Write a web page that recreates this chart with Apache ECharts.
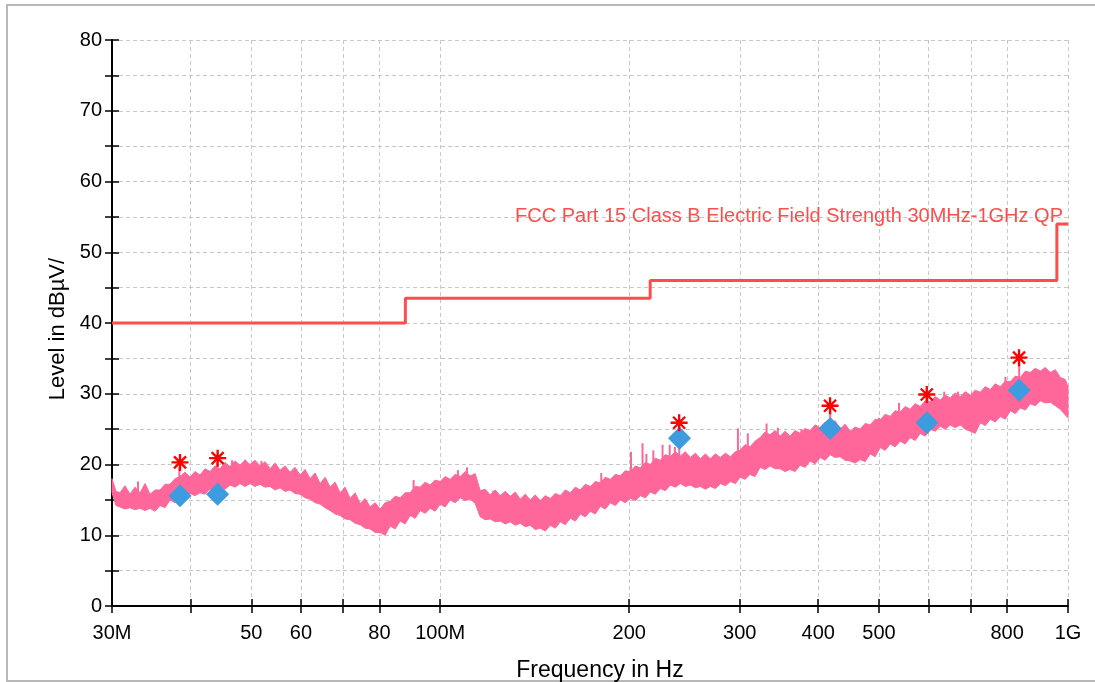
<!DOCTYPE html>
<html><head><meta charset="utf-8">
<script src="https://cdn.jsdelivr.net/npm/echarts@6/dist/echarts.min.js"></script>
<style>html,body{margin:0;padding:0;background:#fff}#c{width:1095px;height:682px}</style>
</head><body><div id="c"></div>
<script>
// ---- data (frequency in MHz, level in dBµV/m) ----
const traceFreq = [
  30.00,30.44,30.89,31.46,32.05,32.64,33.25,33.87,34.49,35.13,
  35.78,36.44,37.12,37.81,38.50,39.21,39.94,40.68,41.43,42.20,
  42.98,43.78,44.58,45.40,46.25,47.11,47.98,48.87,49.77,50.69,
  51.63,52.59,53.57,54.56,55.57,56.60,57.64,58.71,59.80,60.91,
  62.04,63.19,64.36,65.55,66.76,68.00,69.26,70.54,71.85,73.18,
  74.54,75.92,77.32,78.75,80.22,81.70,83.21,84.75,86.33,87.93,
  89.55,91.21,92.90,94.62,96.38,98.16,99.98,101.83,103.72,105.64,
  107.60,109.59,111.62,113.69,115.79,117.93,120.12,122.34,124.61,126.92,
  129.28,131.67,134.11,136.59,139.12,141.69,144.32,146.99,149.72,152.49,
  155.32,158.19,161.13,164.11,167.15,170.24,173.40,176.61,179.88,183.21,
  186.61,190.06,193.59,197.17,200.83,204.55,208.34,212.20,216.12,220.12,
  224.20,228.35,232.59,236.89,241.28,245.74,250.31,254.94,259.66,264.46,
  269.37,274.35,279.45,284.62,289.90,295.26,300.33,305.89,311.56,317.32,
  323.20,329.18,335.28,341.48,347.82,354.26,360.82,367.50,374.31,381.24,
  388.31,395.49,402.83,410.28,417.89,425.62,433.52,441.54,449.73,458.05,
  466.55,475.18,483.99,492.94,502.10,511.39,520.88,530.52,540.35,550.35,
  560.55,570.92,581.52,592.28,603.27,614.43,625.83,637.41,649.23,661.24,
  673.51,685.97,698.70,711.63,724.83,738.24,751.93,765.84,780.04,794.47,
  809.21,824.18,839.47,855.00,870.86,886.97,903.43,920.14,937.21,954.55,
  972.26,990.25,1000];
const traceTop = [
  18.0,16.2,16.0,17.0,15.8,16.8,16.0,17.3,15.8,16.4,
  16.4,17.2,17.2,18.0,18.3,18.9,18.2,19.0,18.5,19.4,
  19.0,19.8,19.4,20.3,19.7,20.5,19.9,20.6,20.0,20.6,
  19.8,20.4,19.4,20.2,19.2,19.8,18.9,19.6,18.5,19.3,
  18.0,18.8,17.3,18.2,16.8,17.5,16.0,16.8,15.2,16.0,
  14.5,15.2,14.0,14.6,13.7,14.6,14.8,15.5,15.3,16.0,
  16.0,16.9,16.8,17.5,17.1,17.8,17.6,18.3,17.9,18.6,
  18.3,19.0,18.4,18.7,16.3,16.5,15.7,16.4,15.6,16.2,
  15.5,16.1,15.1,15.8,15.0,15.7,14.9,15.6,15.2,15.9,
  15.6,16.4,16.0,16.8,16.4,17.2,16.9,17.6,17.4,18.2,
  17.9,18.6,18.4,19.1,19.0,19.8,19.5,20.3,20.0,20.9,
  20.6,21.4,21.1,21.8,21.2,21.8,21.0,21.6,20.8,21.5,
  20.8,21.5,21.0,21.6,21.1,21.8,22.0,22.8,22.5,23.3,
  23.8,24.6,24.2,24.8,24.0,24.7,24.0,24.8,24.4,25.1,
  24.8,25.6,25.2,26.0,25.6,26.2,25.0,25.7,24.7,25.3,
  25.0,25.8,25.6,26.4,26.3,27.1,26.8,27.6,27.4,28.2,
  27.8,28.6,28.2,29.0,28.9,29.6,29.1,29.8,29.4,30.1,
  29.6,30.3,29.8,30.5,30.2,31.0,30.6,31.4,31.0,31.8,
  31.7,32.5,32.3,33.2,33.0,33.6,33.2,33.7,33.0,33.4,
  32.3,32.0,31.0];
const traceBottom = [
  16.0,14.2,14.0,13.7,13.9,13.6,13.8,13.5,13.8,13.4,
  14.2,13.9,15.0,14.6,15.8,15.4,15.9,15.6,16.0,15.8,
  16.5,16.1,16.8,16.5,17.1,16.8,17.3,16.9,17.3,16.9,
  17.2,16.8,16.9,16.4,16.7,16.2,16.4,15.9,15.8,15.3,
  15.1,14.6,14.4,13.9,13.5,13.0,12.8,12.3,12.2,11.7,
  11.5,11.0,10.9,10.4,10.4,10.0,11.3,10.9,12.0,11.6,
  12.8,12.4,13.5,13.1,13.8,13.4,14.4,14.0,15.0,14.6,
  15.3,14.9,15.1,14.5,12.6,12.2,12.3,11.9,12.0,11.6,
  11.9,11.4,11.7,11.2,11.4,10.8,11.0,10.6,11.4,11.0,
  11.9,11.5,12.4,12.0,13.0,12.6,13.4,13.0,14.1,13.7,
  14.6,14.2,15.0,14.6,15.2,14.9,15.6,15.3,16.1,15.8,
  16.6,16.3,17.1,16.8,17.3,16.9,17.1,16.7,16.9,16.5,
  16.9,16.6,17.3,17.0,17.6,17.3,18.2,17.9,18.6,18.3,
  19.6,19.3,19.8,19.4,19.4,19.0,19.3,19.0,19.9,19.6,
  20.5,20.1,21.0,20.6,21.4,21.0,21.1,20.6,20.5,20.2,
  20.7,20.4,21.5,21.1,22.4,22.0,22.9,22.5,23.3,22.9,
  23.8,23.4,24.4,24.0,25.0,24.7,25.4,25.0,25.6,25.2,
  25.6,25.0,24.7,24.4,25.9,25.5,26.4,26.0,26.8,26.4,
  27.6,27.2,28.0,27.7,28.6,28.3,29.0,28.7,28.8,28.3,
  27.8,27.0,26.6];

const spikeFreq = [33.0,38.4,44.1,46.6,48.9,51.9,90.7,106.7,110.3,121.5,180.5,201.3,210.0,213.0,218.5,226.0,232.0,236.5,240.3,298.0,309.0,331.0,345.0,376.0,418.0,500.0,538.0,596.0,635.0,668.0,795.0,836.0];
const spikeBase = [16.0,17.5,18.5,19.0,19.5,19.2,15.5,17.8,17.8,15.0,16.8,18.5,19.0,19.2,19.5,20.0,20.5,20.8,20.8,20.5,21.5,23.0,23.5,23.5,25.0,25.5,26.5,28.0,28.5,29.0,30.0,31.0];
const spikePeak = [17.6,19.6,20.3,20.6,20.7,20.5,17.8,19.2,19.6,16.3,18.8,21.8,23.0,21.5,22.0,22.8,22.8,22.5,25.3,25.1,24.4,25.8,25.2,25.0,27.6,26.6,28.7,29.4,30.3,30.3,32.4,34.4];

const peakFreq = [38.5,44.2,240.2,417.8,595.7,835.6];
const peakLevel = [20.3,20.9,25.9,28.3,29.9,35.1];
const qpFreq = [38.5,44.2,240.5,418.0,596.0,836.0];
const qpLevel = [15.6,15.8,23.7,25.1,25.9,30.5];

const limitFreq = [30,88,88,216,216,960,960,1000];
const limitLevel = [40,40,43.5,43.5,46,46,54,54];
const limitName = 'FCC Part 15 Class B Electric Field Strength 30MHz-1GHz QP';

const xTickFreq = [30,40,50,60,70,80,100,200,300,400,500,600,700,800,1000];
const xLabelFreq = [30,50,60,80,100,200,300,400,500,800,1000];
const xLabelText = ['30M','50','60','80','100M','200','300','400','500','800','1G'];
const yMin = 0, yMax = 80, yStep = 5;
const xName = 'Frequency in Hz';
const yName = 'Level in dBµV/';

// ---- chart ----
const lg = Math.log10;
const FONT = "'Liberation Sans', Arial, sans-serif";
const PINK = '#ff6699';
const asterisk = 'path://M-1.1,-8L1.1,-8L1.1,8L-1.1,8Z M-8,-1.1L8,-1.1L8,1.1L-8,1.1Z M4.88,-6.43L6.43,-4.88L-4.88,6.43L-6.43,4.88Z M-6.43,-4.88L-4.88,-6.43L6.43,4.88L4.88,6.43Z';

function xLabelFormatter(v) {
  let best = 0, bd = Infinity;
  xLabelFreq.forEach((f, i) => { const d = Math.abs(lg(f) - v); if (d < bd) { bd = d; best = i; } });
  return xLabelText[best];
}

const gridLine = { show: true, lineStyle: { color: '#c8c8c8', type: [4, 3], width: 1 } };

const chart = echarts.init(document.getElementById('c'), null, { renderer: 'canvas' });
chart.setOption({
  animation: false,
  backgroundColor: '#fff',
  textStyle: { fontFamily: FONT },
  graphic: [{ type: 'rect', shape: { x: 7, y: 5, width: 1200, height: 676 }, style: { fill: null, stroke: '#b8b8b8', lineWidth: 2 }, z: -10 }],
  grid: { left: 112, right: 27, top: 40, bottom: 76, containLabel: false, outerBoundsMode: 'none' },
  xAxis: [
    {
      type: 'value', min: lg(30), max: 3, position: 'bottom',
      axisLine: { show: true, onZero: false, lineStyle: { color: '#000', width: 2 } },
      axisTick: { show: true, customValues: xTickFreq.map(lg), length: 7, lineStyle: { color: '#000', width: 1.5 } },
      axisLabel: { show: true, customValues: xLabelFreq.map(lg), formatter: xLabelFormatter, fontSize: 20, color: '#000', margin: 17, fontFamily: FONT },
      splitLine: gridLine,
      name: xName, nameLocation: 'middle', nameGap: 53,
      nameTextStyle: { fontSize: 23, color: '#000', fontFamily: FONT, padding: [0, 0, 0, 20] }
    },
    {
      type: 'value', min: lg(30), max: 3, position: 'bottom',
      axisLine: { show: false },
      axisTick: { show: true, inside: true, customValues: xTickFreq.map(lg), length: 7, lineStyle: { color: '#000', width: 1.5 } },
      axisLabel: { show: false }, splitLine: { show: false }
    }
  ],
  yAxis: [
    {
      type: 'value', min: yMin, max: yMax, interval: yStep, position: 'left',
      axisLine: { show: true, onZero: false, lineStyle: { color: '#000', width: 2 } },
      axisTick: { show: true, length: 7, lineStyle: { color: '#000', width: 1.5 } },
      axisLabel: { formatter: v => (v % 10 === 0 ? String(v) : ''), fontSize: 20, color: '#000', margin: 10, fontFamily: FONT },
      splitLine: gridLine,
      name: yName, nameLocation: 'middle', nameGap: 36,
      nameTextStyle: { fontSize: 22, color: '#000', fontFamily: FONT, padding: [0, 12, 0, 0] }
    },
    {
      type: 'value', min: yMin, max: yMax, interval: yStep, position: 'left', offset: 0,
      axisLine: { show: false },
      axisTick: { show: true, inside: true, length: 7, lineStyle: { color: '#000', width: 1.5 } },
      axisLabel: { show: false }, splitLine: { show: false }
    }
  ],
  series: [
    {
      name: 'trace', type: 'custom', xAxisIndex: 0, yAxisIndex: 0, silent: true, z: 2,
      data: [[lg(100), 15]],
      renderItem: (params, api) => {
        const pts = [];
        for (let i = 0; i < traceFreq.length; i++) pts.push(api.coord([lg(traceFreq[i]), traceTop[i]]));
        for (let i = traceFreq.length - 1; i >= 0; i--) pts.push(api.coord([lg(traceFreq[i]), traceBottom[i]]));
        return { type: 'polygon', shape: { points: pts }, style: { fill: PINK, stroke: PINK, lineWidth: 1 } };
      }
    },
    {
      name: 'spikes', type: 'custom', xAxisIndex: 0, yAxisIndex: 0, silent: true, z: 2,
      encode: { x: 0, y: [1, 2] },
      data: spikeFreq.map((f, i) => [lg(f), spikeBase[i], spikePeak[i]]),
      renderItem: (params, api) => {
        const a = api.coord([api.value(0), api.value(1)]);
        const b = api.coord([api.value(0), api.value(2)]);
        return { type: 'line', shape: { x1: a[0], y1: a[1], x2: b[0], y2: b[1] }, style: { stroke: PINK, lineWidth: 2 } };
      }
    },
    {
      name: limitName, type: 'line', xAxisIndex: 0, yAxisIndex: 0, z: 3, silent: true,
      showSymbol: true, symbol: 'circle', symbolSize: 0,
      lineStyle: { color: '#ff4d4d', width: 3 }, itemStyle: { color: '#ff4d4d' },
      data: limitFreq.map((f, i) => {
        const item = { value: [lg(f), limitLevel[i]] };
        if (i === limitFreq.length - 1) {
          item.label = { show: true, position: 'top', align: 'right', distance: 1, offset: [-5, 4],
            formatter: limitName, color: '#ff4d4d', fontSize: 20, fontFamily: FONT };
        }
        return item;
      })
    },
    {
      name: 'QP', type: 'scatter', xAxisIndex: 0, yAxisIndex: 0, z: 4, silent: true,
      symbol: 'diamond', symbolSize: 23, itemStyle: { color: '#3d9be0', opacity: 1 },
      data: qpFreq.map((f, i) => [lg(f), qpLevel[i]])
    },
    {
      name: 'Peak', type: 'scatter', xAxisIndex: 0, yAxisIndex: 0, z: 5, silent: true,
      symbol: asterisk, symbolSize: 17, itemStyle: { color: '#ff0000', opacity: 1 },
      data: peakFreq.map((f, i) => [lg(f), peakLevel[i]])
    }
  ]
});
</script>
</body></html>
